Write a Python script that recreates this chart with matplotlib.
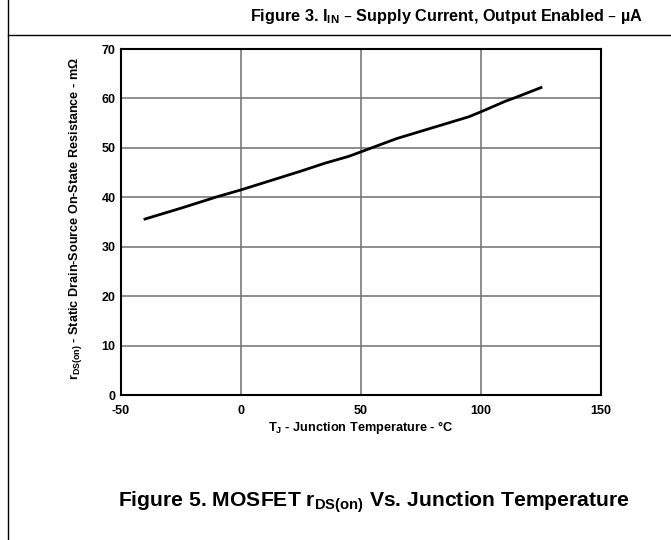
import matplotlib
matplotlib.use("Agg")
import matplotlib.pyplot as plt
from matplotlib.lines import Line2D

plt.rcParams['font.family'] = ['Liberation Sans', 'DejaVu Sans']
plt.rcParams['mathtext.default'] = 'regular'
plt.rcParams['axes.unicode_minus'] = False

# Data
temp_c = [-40, -25, -10, 0, 25, 35, 45, 50, 65, 80, 95, 100, 110, 115, 125]
rds_mohm = [35.6, 37.8, 40.1, 41.5, 45.3, 46.9, 48.3, 49.2, 51.9, 54.1, 56.3, 57.3, 59.4, 60.3, 62.2]
x_ticks = [-50, 0, 50, 100, 150]
y_ticks = [0, 10, 20, 30, 40, 50, 60, 70]

W, H = 671, 540
fig = plt.figure(figsize=(W / 100, H / 100), dpi=100)

ax = fig.add_axes([121 / W, 1 - 395 / H, (601 - 121) / W, (395 - 49) / H])
ax.plot(temp_c, rds_mohm, color='black', lw=2.0, zorder=3)
ax.set_xlim(-50, 150)
ax.set_ylim(0, 70)
ax.set_xticks(x_ticks)
ax.set_yticks(y_ticks)
ax.grid(True, color='#707070', lw=1.1)
ax.tick_params(length=0, pad=4, labelsize=9)
ax.tick_params(axis='x', pad=7)
for lab in ax.get_xticklabels() + ax.get_yticklabels():
    lab.set_fontweight('bold')
for s in ax.spines.values():
    s.set_linewidth(1.5)
    s.set_color('black')

ax.set_xlabel('T$_J$ - Junction Temperature - °C', fontsize=9.2, fontweight='bold', labelpad=2)
ax.set_ylabel('r$_{DS(on)}$ - Static Drain-Source On-State Resistance - mΩ',
              fontsize=9.1, fontweight='bold', labelpad=10)
ax.yaxis.set_label_coords(-(121 - 84) / (601 - 121), 0.51)

# Frame lines
fig.add_artist(Line2D([8 / W, 8 / W], [0, 1], color='black', lw=1.0, transform=fig.transFigure))
fig.add_artist(Line2D([8 / W, 1], [1 - 35 / H, 1 - 35 / H], color='black', lw=1.0, transform=fig.transFigure))

fig.text(447 / W, 1 - 16 / H, 'Figure 3. I$_{IN}$ – Supply Current, Output Enabled – µA',
         ha='center', va='center', fontsize=11.7, fontweight='bold')
fig.text(374 / W, 1 - 502 / H, 'Figure 5. MOSFET r$_{DS(on)}$ Vs. Junction Temperature',
         ha='center', va='center', fontsize=15.2, fontweight='bold')

fig.savefig('out.png', dpi=100)
